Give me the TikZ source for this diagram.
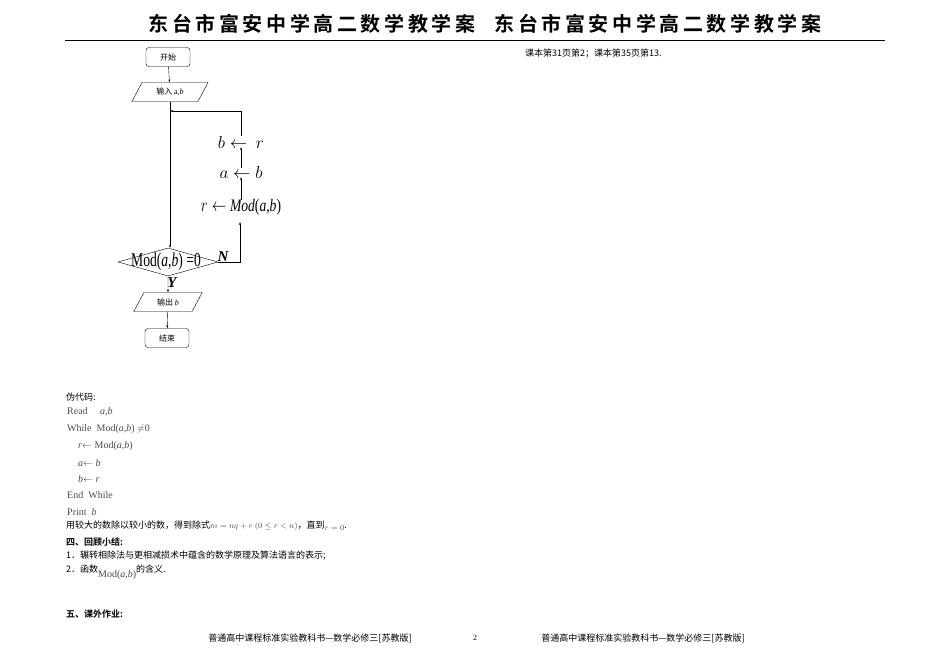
\documentclass[tikz,border=0pt]{standalone}
\usepackage{fontspec}
\setmainfont{Liberation Serif}
\newfontfamily\cjk{Noto Sans CJK SC}
\newfontfamily\cjkb{Noto Sans CJK SC Bold}
\newfontfamily\cjkh[LetterSpace=18]{Noto Sans CJK SC Bold}
\usetikzlibrary{shapes.geometric,arrows.meta}
\begin{document}
\begin{tikzpicture}[x=1pt,y=-1pt,
  tbox/.style={draw,rounded corners=3pt,minimum width=44pt,minimum height=19pt,font=\cjk\fontsize{8}{9}\selectfont},
  para/.style={draw,trapezium,trapezium left angle=62,trapezium right angle=118,minimum width=40pt,minimum height=19pt,inner sep=1pt,font=\cjk\fontsize{8}{9}\selectfont},
  arr/.style={-{Stealth[length=3pt,width=2pt]},line width=0.4pt},
  txt/.style={anchor=west,inner sep=0,font=\cjk\fontsize{9}{10}\selectfont},
  code/.style={anchor=west,inner sep=0,font=\fontsize{10}{11}\selectfont,text=black!70}]
\useasboundingbox (0,0) rectangle (950,671);
\node[font=\cjkh\fontsize{20}{21}\selectfont] (h1) at (312,24) {东台市富安中学高二数学教学案};
\node[font=\cjkh\fontsize{20}{21}\selectfont] (h2) at (658,24) {东台市富安中学高二数学教学案};
\draw[line width=0.6pt] (65,40) -- (885,40);
\node[txt] (rt) at (525,53) {课本第31页第2；课本第35页第13.};
% flowchart
\node[tbox] (s) at (168,57) {开始};
\node[para] (in) at (170,92) {输入 \rmfamily a,\textit{b}};
\coordinate (j) at (170,111);
\coordinate (nr) at (240,262);
\coordinate (nu) at (240,222);
\node[draw,diamond,aspect=3.4,minimum width=100pt,minimum height=28pt,inner sep=0] (d) at (168,262) {};
\node[font=\fontsize{17}{18}\selectfont,inner sep=0] (dl) at (166,262) {\scalebox{0.8}[1.15]{Mod(\textit{a},\textit{b}) =0}};
\node[font=\bfseries\itshape\fontsize{15}{16}\selectfont] (N) at (223,257) {N};
\node[font=\bfseries\itshape\fontsize{15}{16}\selectfont] (Y) at (172,283) {Y};
\node[font=\fontsize{16}{17}\selectfont,inner sep=1pt] (c1) at (241,207) {\scalebox{0.85}[1.1]{$r\leftarrow$ \textit{Mod}(\textit{a},\textit{b})}};
\node[font=\fontsize{16}{17}\selectfont,inner sep=1pt] (c2) at (241,173) {$a\leftarrow b$};
\node[font=\fontsize{16}{17}\selectfont,inner sep=1pt] (c3) at (241,143) {$b\leftarrow\ r$};
\node[para] (out) at (168,302) {输出 \rmfamily\textit{b}};
\node[tbox] (e) at (167,338) {结束};
\draw[arr] (s) -- (in);
\draw[arr] (in.south -| j) -- (d.north -| j);
\draw[arr] (d.east) -- (nr) -- (nu);
\draw[arr] ([yshift=-2pt]c1.north) -- ([yshift=3pt]c2.south);
\draw[arr] ([yshift=-2pt]c2.north) -- ([yshift=3pt]c3.south);
\draw[arr] (c3.north) -- (c3.north |- j) -- (j);
\draw[arr] (d.south) -- (out);
\draw[arr] (out) -- (e);
% text
\node[txt] (t0) at (66,397) {伪代码:};
\node[code] (t1) at (67,412) {Read \quad \textit{a},\textit{b}};
\node[code] (t2) at (67,429) {While \ Mod(\textit{a},\textit{b}) $\neq$0};
\node[code] (t3) at (78,446) {\textit{r}$\leftarrow$ Mod(\textit{a},\textit{b})};
\node[code] (t4) at (78,463) {\textit{a}$\leftarrow$ \textit{b}};
\node[code] (t5) at (78,479) {\textit{b}$\leftarrow$ \textit{r}};
\node[code] (t6) at (67,495) {End \ While};
\node[code] (t7) at (67,512) {Print \ \textit{b}};
\node[txt] (t8) at (66,526) {用较大的数除以较小的数，得到除式{\rmfamily\color{black!70}\fontsize{8.5}{9}\selectfont$m=nq+r\ (0\le r<n)$}，直到{\rmfamily\color{black!70}\fontsize{8.5}{9}\selectfont\raisebox{-2pt}{$r=0$}}.};
\node[txt,font=\cjkb\fontsize{9}{10}\selectfont] (t9) at (66,542) {四、回顾小结:};
\node[txt] (t10) at (66,556) {1．辗转相除法与更相减损术中蕴含的数学原理及算法语言的表示;};
\node[txt] (t11) at (66,572) {2．函数{\rmfamily\color{black!70}\fontsize{10}{11}\selectfont\raisebox{-5pt}{Mod(\textit{a},\textit{b})}}的含义.};
\node[txt,font=\cjkb\fontsize{9}{10}\selectfont] (t12) at (66,614) {五、课外作业:};
% footer
\node[font=\cjk\fontsize{9}{10}\selectfont] (f1) at (310,638) {普通高中课程标准实验教科书—数学必修三[苏教版]};
\node[font=\fontsize{8}{10}\selectfont] (f2) at (475,638) {2};
\node[font=\cjk\fontsize{9}{10}\selectfont] (f3) at (643,638) {普通高中课程标准实验教科书—数学必修三[苏教版]};
\end{tikzpicture}
\end{document}
